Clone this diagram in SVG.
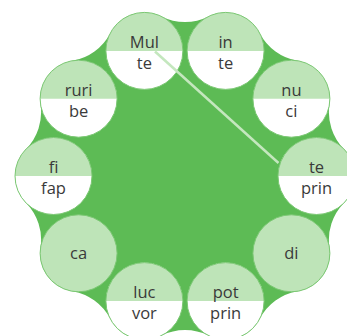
<svg xmlns="http://www.w3.org/2000/svg" width="347" height="336" viewBox="0 0 347 336">
<defs>
<style>
.blob{fill:#5dbb55}
.w{fill:#ffffff}
.lg{fill:#bee4b8}
.ring{fill:none;stroke:#7cc874;stroke-width:1}
text{font-family:"Open Sans","Noto Sans","Liberation Sans",sans-serif;font-size:16.5px;fill:#3a3a3a;text-anchor:middle}
.conn{stroke:#c4e7be;stroke-width:2.5;fill:none;stroke-linecap:butt}
</style>
</defs>
<rect width="347" height="336" fill="#ffffff"/>
<path class="blob" d="M343.97,202.97 A52.6,52.6 0 0 0 329.46,247.62 A38.5,38.5 0 0 1 297.77,291.24 A52.6,52.6 0 0 0 259.79,318.85 A38.5,38.5 0 0 1 208.47,335.52 A52.6,52.6 0 0 0 161.53,335.52 A38.5,38.5 0 0 1 110.21,318.85 A52.6,52.6 0 0 0 72.23,291.24 A38.5,38.5 0 0 1 40.54,247.62 A52.6,52.6 0 0 0 26.03,202.97 A38.5,38.5 0 0 1 26.03,149.03 A52.6,52.6 0 0 0 40.54,104.38 A38.5,38.5 0 0 1 72.23,60.76 A52.6,52.6 0 0 0 110.21,33.15 A38.5,38.5 0 0 1 161.53,16.48 A52.6,52.6 0 0 0 208.47,16.48 A38.5,38.5 0 0 1 259.79,33.15 A52.6,52.6 0 0 0 297.77,60.76 A38.5,38.5 0 0 1 329.46,104.38 A52.6,52.6 0 0 0 343.97,149.03 A38.5,38.5 0 0 1 343.97,202.97 Z"/>
<g id="node-mul" transform="translate(144.4,50.9)">
<circle class="w" r="38.5"/><path class="lg" d="M-38.5,0 A38.5,38.5 0 0 1 38.5,0 Z"/><circle class="ring" r="38.5"/>
<text y="-3">Mul</text><text y="18">te</text>
</g>
<g id="node-in" transform="translate(225.6,50.9)">
<circle class="w" r="38.5"/><path class="lg" d="M-38.5,0 A38.5,38.5 0 0 1 38.5,0 Z"/><circle class="ring" r="38.5"/>
<text y="-3">in</text><text y="18">te</text>
</g>
<g id="node-nu" transform="translate(291.4,98.7)">
<circle class="w" r="38.5"/><path class="lg" d="M-38.5,0 A38.5,38.5 0 0 1 38.5,0 Z"/><circle class="ring" r="38.5"/>
<text y="-3">nu</text><text y="18">ci</text>
</g>
<g id="node-teprin" transform="translate(316.5,176)">
<circle class="w" r="38.5"/><path class="lg" d="M-38.5,0 A38.5,38.5 0 0 1 38.5,0 Z"/><circle class="ring" r="38.5"/>
<text y="-3">te</text><text y="18">prin</text>
</g>
<g id="node-di" transform="translate(291.4,253.3)">
<circle class="lg" r="38.5"/><circle class="ring" r="38.5"/>
<text y="6">di</text>
</g>
<g id="node-pot" transform="translate(225.6,301.1)">
<circle class="w" r="38.5"/><path class="lg" d="M-38.5,0 A38.5,38.5 0 0 1 38.5,0 Z"/><circle class="ring" r="38.5"/>
<text y="-3">pot</text><text y="18">prin</text>
</g>
<g id="node-luc" transform="translate(144.4,301.1)">
<circle class="w" r="38.5"/><path class="lg" d="M-38.5,0 A38.5,38.5 0 0 1 38.5,0 Z"/><circle class="ring" r="38.5"/>
<text y="-3">luc</text><text y="18">vor</text>
</g>
<g id="node-ca" transform="translate(78.6,253.3)">
<circle class="lg" r="38.5"/><circle class="ring" r="38.5"/>
<text y="6">ca</text>
</g>
<g id="node-fi" transform="translate(53.5,176)">
<circle class="w" r="38.5"/><path class="lg" d="M-38.5,0 A38.5,38.5 0 0 1 38.5,0 Z"/><circle class="ring" r="38.5"/>
<text y="-3">fi</text><text y="18">fap</text>
</g>
<g id="node-ruri" transform="translate(78.6,98.7)">
<circle class="w" r="38.5"/><path class="lg" d="M-38.5,0 A38.5,38.5 0 0 1 38.5,0 Z"/><circle class="ring" r="38.5"/>
<text y="-3">ruri</text><text y="18">be</text>
</g>
<g id="connectors">
<line class="conn" x1="155" y1="51.5" x2="278.5" y2="163"/>
</g>
</svg>
